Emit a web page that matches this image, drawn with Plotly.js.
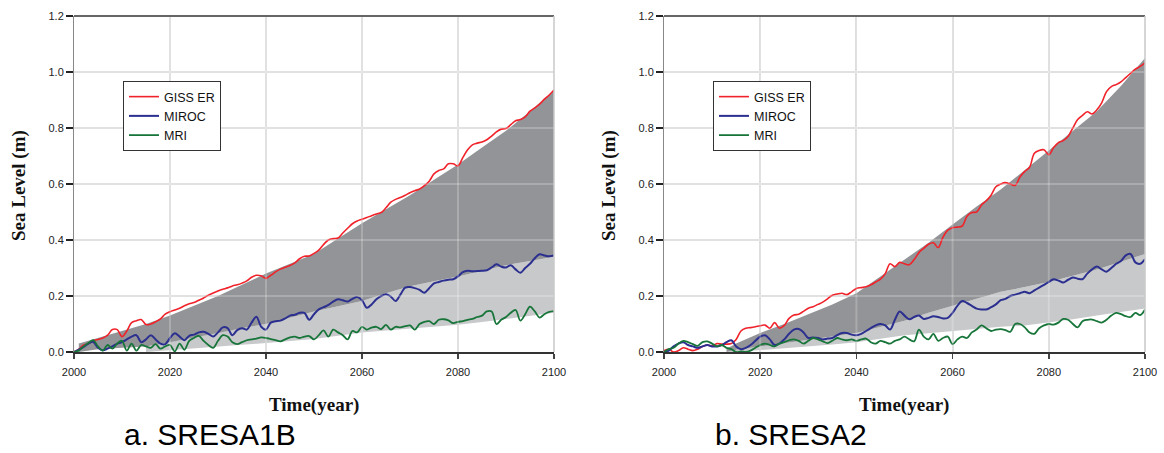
<!DOCTYPE html>
<html>
<head>
<meta charset="utf-8">
<script src="https://cdn.plot.ly/plotly-3.0.1.min.js"></script>
<style>
html,body{margin:0;padding:0;background:#fff;}
#chart{width:1164px;height:453px;}
</style>
</head>
<body>
<div id="chart"></div>
<script>
// ---------- DATA ----------
const seriesNames = ["GISS ER", "MIROC", "MRI"];
const panelCaptions = ["a. SRESA1B", "b. SRESA2"];
const xTickVals = [2000, 2020, 2040, 2060, 2080, 2100];
const yTickVals = [0.0, 0.2, 0.4, 0.6, 0.8, 1.0, 1.2];
const yTickText = ["0.0", "0.2", "0.4", "0.6", "0.8", "1.0", "1.2"];

const years = [];
for (let y = 2000; y <= 2100; y++) years.push(y);

// SRES A1B
const a1bRed = [
0.000,0.010,0.025,0.030,0.040,0.045,0.050,0.060,0.080,0.080,
0.055,0.075,0.105,0.112,0.116,0.098,0.100,0.108,0.118,0.135,
0.144,0.150,0.156,0.165,0.172,0.177,0.185,0.193,0.203,0.211,
0.218,0.224,0.229,0.236,0.240,0.246,0.254,0.267,0.274,0.272,
0.263,0.274,0.286,0.296,0.303,0.309,0.318,0.333,0.342,0.343,
0.352,0.364,0.384,0.400,0.405,0.407,0.425,0.442,0.458,0.468,
0.474,0.480,0.487,0.493,0.498,0.515,0.535,0.545,0.552,0.560,
0.569,0.576,0.582,0.594,0.610,0.636,0.648,0.654,0.672,0.672,
0.665,0.694,0.722,0.740,0.746,0.750,0.758,0.771,0.786,0.796,
0.798,0.812,0.826,0.830,0.840,0.860,0.872,0.885,0.903,0.918,
0.936];
const a1bBlue = [
0.000,0.008,0.018,0.030,0.036,0.015,0.006,0.012,0.020,0.030,
0.035,0.045,0.055,0.060,0.035,0.045,0.060,0.045,0.030,0.028,
0.050,0.067,0.055,0.042,0.058,0.062,0.070,0.072,0.065,0.055,
0.070,0.088,0.085,0.060,0.078,0.085,0.080,0.105,0.126,0.090,
0.080,0.105,0.110,0.112,0.120,0.130,0.133,0.140,0.140,0.115,
0.135,0.152,0.160,0.168,0.180,0.188,0.185,0.180,0.190,0.196,
0.185,0.158,0.170,0.188,0.200,0.206,0.198,0.182,0.205,0.230,
0.232,0.228,0.222,0.212,0.228,0.245,0.250,0.255,0.258,0.260,
0.270,0.285,0.290,0.288,0.289,0.290,0.292,0.302,0.313,0.305,
0.302,0.310,0.295,0.283,0.300,0.315,0.335,0.349,0.345,0.342,
0.345];
const a1bGreen = [
0.000,0.005,0.020,0.032,0.042,0.020,0.005,0.025,0.012,0.030,
0.040,0.005,0.030,0.005,0.025,0.020,0.015,0.028,0.012,0.020,
0.025,0.002,0.030,0.008,0.040,0.050,0.058,0.040,0.025,0.015,
0.040,0.060,0.055,0.035,0.028,0.035,0.042,0.045,0.048,0.052,
0.050,0.046,0.042,0.038,0.045,0.052,0.055,0.050,0.055,0.057,
0.045,0.060,0.077,0.055,0.080,0.070,0.060,0.045,0.075,0.070,
0.090,0.080,0.087,0.090,0.082,0.097,0.080,0.090,0.088,0.092,
0.095,0.080,0.100,0.108,0.110,0.100,0.115,0.117,0.113,0.103,
0.108,0.110,0.115,0.118,0.125,0.130,0.145,0.145,0.100,0.115,
0.125,0.140,0.150,0.112,0.135,0.162,0.145,0.123,0.135,0.143,
0.146];
const a1bDarkYears  = [2001,2005,2010,2015,2020,2025,2030,2035,2040,2045,2050,2055,2060,2065,2070,2075,2080,2085,2090,2095,2100];
const a1bDarkTop    = [0.030,0.050,0.075,0.100,0.130,0.165,0.200,0.240,0.280,0.315,0.350,0.405,0.460,0.510,0.560,0.615,0.670,0.730,0.790,0.860,0.935];
const a1bDarkBottom = [0.000,0.010,0.015,0.020,0.035,0.052,0.070,0.085,0.100,0.122,0.145,0.163,0.182,0.210,0.235,0.253,0.270,0.290,0.310,0.325,0.340];
const a1bLightYears  = [2015,2020,2025,2030,2035,2040,2045,2050,2055,2060,2065,2070,2075,2080,2085,2090,2095,2100];
const a1bLightTop    = [0.020,0.035,0.052,0.070,0.085,0.100,0.122,0.145,0.163,0.182,0.210,0.235,0.253,0.270,0.290,0.310,0.325,0.340];
const a1bLightBottom = [0.000,0.007,0.013,0.020,0.026,0.032,0.039,0.046,0.058,0.070,0.077,0.083,0.090,0.097,0.107,0.118,0.130,0.140];

// SRES A2
const a2Red = [
0.005,0.010,0.000,0.005,0.015,0.010,0.005,0.010,0.020,0.025,
0.022,0.030,0.028,0.028,0.030,0.045,0.075,0.085,0.087,0.090,
0.094,0.096,0.085,0.105,0.085,0.095,0.120,0.132,0.135,0.145,
0.156,0.162,0.170,0.178,0.190,0.203,0.207,0.210,0.205,0.215,
0.227,0.230,0.233,0.240,0.250,0.260,0.280,0.315,0.305,0.320,
0.315,0.312,0.330,0.355,0.370,0.385,0.390,0.373,0.410,0.435,
0.444,0.446,0.450,0.485,0.498,0.500,0.525,0.540,0.560,0.590,
0.600,0.605,0.600,0.595,0.625,0.645,0.660,0.710,0.720,0.722,
0.705,0.730,0.748,0.755,0.770,0.800,0.830,0.845,0.858,0.850,
0.865,0.890,0.930,0.948,0.955,0.965,0.980,0.995,1.010,1.020,
1.033];
const a2Blue = [
0.000,0.005,0.020,0.030,0.035,0.025,0.020,0.015,0.020,0.025,
0.020,0.020,0.025,0.035,0.042,0.020,0.010,0.015,0.025,0.040,
0.055,0.060,0.045,0.025,0.030,0.045,0.065,0.080,0.082,0.070,
0.050,0.052,0.050,0.045,0.048,0.050,0.060,0.068,0.068,0.062,
0.060,0.065,0.075,0.085,0.095,0.100,0.095,0.080,0.115,0.145,
0.130,0.117,0.125,0.130,0.118,0.122,0.128,0.125,0.120,0.122,
0.140,0.165,0.182,0.175,0.165,0.155,0.152,0.152,0.160,0.170,
0.185,0.190,0.200,0.205,0.210,0.215,0.210,0.220,0.230,0.240,
0.250,0.260,0.255,0.248,0.258,0.266,0.262,0.260,0.280,0.295,
0.305,0.295,0.287,0.300,0.315,0.325,0.345,0.350,0.320,0.315,
0.332];
const a2Green = [
0.000,0.010,0.015,0.030,0.040,0.035,0.028,0.022,0.035,0.038,
0.030,0.020,0.025,0.015,0.010,0.000,0.002,0.000,0.005,0.015,
0.025,0.030,0.025,0.020,0.030,0.035,0.042,0.045,0.040,0.030,
0.040,0.050,0.045,0.038,0.032,0.040,0.050,0.045,0.042,0.045,
0.040,0.045,0.048,0.035,0.030,0.040,0.035,0.030,0.040,0.045,
0.055,0.045,0.038,0.080,0.055,0.045,0.065,0.040,0.050,0.055,
0.028,0.045,0.055,0.050,0.070,0.080,0.095,0.085,0.075,0.080,
0.082,0.078,0.072,0.100,0.100,0.088,0.070,0.065,0.085,0.095,
0.100,0.098,0.105,0.118,0.115,0.100,0.088,0.110,0.115,0.116,
0.110,0.105,0.115,0.130,0.140,0.135,0.128,0.125,0.140,0.132,
0.152];
const a2DarkYears  = [2013,2015,2020,2025,2030,2035,2040,2045,2050,2055,2060,2065,2070,2075,2080,2085,2090,2095,2100];
const a2DarkTop    = [0.012,0.030,0.068,0.100,0.135,0.170,0.210,0.270,0.330,0.390,0.455,0.520,0.580,0.650,0.720,0.790,0.860,0.950,1.050];
const a2DarkBottom = [0.000,0.008,0.020,0.031,0.043,0.055,0.068,0.090,0.112,0.140,0.165,0.190,0.215,0.232,0.250,0.272,0.295,0.322,0.350];
const a2LightYears  = [2013,2015,2020,2025,2030,2035,2040,2045,2050,2055,2060,2065,2070,2075,2080,2085,2090,2095,2100];
const a2LightTop    = [0.000,0.008,0.020,0.031,0.043,0.055,0.068,0.090,0.112,0.140,0.165,0.190,0.215,0.232,0.250,0.272,0.295,0.322,0.350];
const a2LightBottom = [0.000,0.000,0.007,0.013,0.020,0.027,0.035,0.047,0.060,0.067,0.075,0.082,0.090,0.095,0.105,0.117,0.130,0.142,0.155];

// ---------- STYLE ----------
const W = 1164, H = 453;
const colRed = "#f0222a", colBlue = "#2b2f8f", colGreen = "#17753a";
const colDark = "#939497", colLight = "#c8c9cb";
const px = v => v / W;
const py = v => 1 - v / H;

const panels = [
  {xa: "x", ya: "y", leg: "legend",
   red: a1bRed, blue: a1bBlue, green: a1bGreen,
   dY: a1bDarkYears, dT: a1bDarkTop, dB: a1bDarkBottom,
   lY: a1bLightYears, lT: a1bLightTop, lB: a1bLightBottom},
  {xa: "x2", ya: "y2", leg: "legend2",
   red: a2Red, blue: a2Blue, green: a2Green,
   dY: a2DarkYears, dT: a2DarkTop, dB: a2DarkBottom,
   lY: a2LightYears, lT: a2LightTop, lB: a2LightBottom}
];

const traces = [];
panels.forEach(p => {
  const base = {xaxis: p.xa, yaxis: p.ya, mode: "lines", hoverinfo: "skip", showlegend: false};
  traces.push(Object.assign({}, base, {x: p.lY, y: p.lB, line: {width: 0, color: colLight}}));
  traces.push(Object.assign({}, base, {x: p.lY, y: p.lT, fill: "tonexty", fillcolor: colLight, line: {width: 0, color: colLight}}));
  traces.push(Object.assign({}, base, {x: p.dY, y: p.dB, line: {width: 0, color: colDark}}));
  traces.push(Object.assign({}, base, {x: p.dY, y: p.dT, fill: "tonexty", fillcolor: colDark, line: {width: 0, color: colDark}}));
  const lineBase = {xaxis: p.xa, yaxis: p.ya, mode: "lines", x: years, legend: p.leg, showlegend: true};
  traces.push(Object.assign({}, lineBase, {name: seriesNames[0], y: p.red, line: {color: colRed, width: 1.6, shape: "spline", smoothing: 1.0}}));
  traces.push(Object.assign({}, lineBase, {name: seriesNames[1], y: p.blue, line: {color: colBlue, width: 2.0, shape: "spline", smoothing: 1.0}}));
  traces.push(Object.assign({}, lineBase, {name: seriesNames[2], y: p.green, line: {color: colGreen, width: 1.8, shape: "spline", smoothing: 1.0}}));
});

const tickFont = {family: "Liberation Sans, Arial, sans-serif", size: 11, color: "#222"};
function xAxis(domain, anchor) {
  return {domain: domain, anchor: anchor, range: [2000, 2100], tickvals: xTickVals,
    ticktext: xTickVals.map(String), showgrid: true, gridcolor: "#d9d9d9", gridwidth: 2,
    zeroline: false, showline: true, linecolor: "#333", linewidth: 2,
    ticks: "outside", ticklen: 5, tickwidth: 1.5, tickcolor: "#444",
    tickfont: tickFont, ticklabelstandoff: 4, fixedrange: true};
}
function yAxis(anchor) {
  return {domain: [py(352), py(16)], anchor: anchor, range: [0, 1.2], tickvals: yTickVals,
    ticktext: yTickText, showgrid: true, gridcolor: "#d9d9d9", gridwidth: 2,
    zeroline: false, showline: true, linecolor: "#888", linewidth: 1,
    ticks: "outside", ticklen: 7, tickwidth: 2, tickcolor: "#222",
    tickfont: tickFont, fixedrange: true};
}

// grid overlay (grid shows faintly through shaded areas) and frame
const gridYears = [2020, 2040, 2060, 2080];
const gridLevels = [0.2, 0.4, 0.6, 0.8, 1.0];
const shapes = [];
panels.forEach(p => {
  gridYears.forEach(g => shapes.push({type: "line", layer: "above", xref: p.xa, yref: p.ya + " domain",
    x0: g, x1: g, y0: 0, y1: 1, line: {color: "rgba(255,255,255,0.22)", width: 2}}));
  gridLevels.forEach(g => shapes.push({type: "line", layer: "above", xref: p.xa + " domain", yref: p.ya,
    x0: 0, x1: 1, y0: g, y1: g, line: {color: "rgba(255,255,255,0.22)", width: 2}}));
  shapes.push({type: "line", layer: "above", xref: p.xa + " domain", yref: p.ya + " domain",
    x0: 0, x1: 1, y0: 1, y1: 1, line: {color: "#666", width: 2}});
  shapes.push({type: "line", layer: "above", xref: p.xa + " domain", yref: p.ya + " domain",
    x0: 1, x1: 1, y0: 0, y1: 1, line: {color: "#c8c8c8", width: 1.5}});
});

const serif = "Liberation Serif, Times New Roman, serif";
const annotations = [];
[[314, 19, 122], [904, 609, 713]].forEach((c, i) => {
  annotations.push({xref: "paper", yref: "paper", x: px(c[0]), y: py(405), xanchor: "center", yanchor: "middle",
    text: "<b>Time(year)</b>", showarrow: false, font: {family: serif, size: 19, color: "#111"}});
  annotations.push({xref: "paper", yref: "paper", x: px(c[1]), y: py(186), xanchor: "center", yanchor: "middle",
    text: "<b>Sea Level (m)</b>", textangle: -90, showarrow: false, font: {family: serif, size: 19, color: "#111"}});
  annotations.push({xref: "paper", yref: "paper", x: px(c[2]), y: py(434), xanchor: "left", yanchor: "middle",
    text: panelCaptions[i], showarrow: false, font: {family: "Liberation Sans, Arial, sans-serif", size: 30, color: "#000"}});
});

const legendStyle = x => ({x: px(x), y: py(81), xanchor: "left", yanchor: "top",
  bgcolor: "#fff", bordercolor: "#333", borderwidth: 1, traceorder: "normal",
  font: {family: "Liberation Sans, Arial, sans-serif", size: 12.5, color: "#111"},
  tracegroupgap: 0, itemwidth: 30});

const layout = {
  width: W, height: H, margin: {l: 0, r: 0, t: 0, b: 0},
  paper_bgcolor: "#fff", plot_bgcolor: "#fff",
  showlegend: true,
  xaxis: xAxis([px(74), px(554)], "y"),
  yaxis: yAxis("x"),
  xaxis2: xAxis([px(664), px(1145)], "y2"),
  yaxis2: yAxis("x2"),
  legend: legendStyle(123),
  legend2: legendStyle(713),
  shapes: shapes,
  annotations: annotations
};

Plotly.newPlot("chart", traces, layout, {displayModeBar: false, staticPlot: true});
</script>
</body>
</html>
